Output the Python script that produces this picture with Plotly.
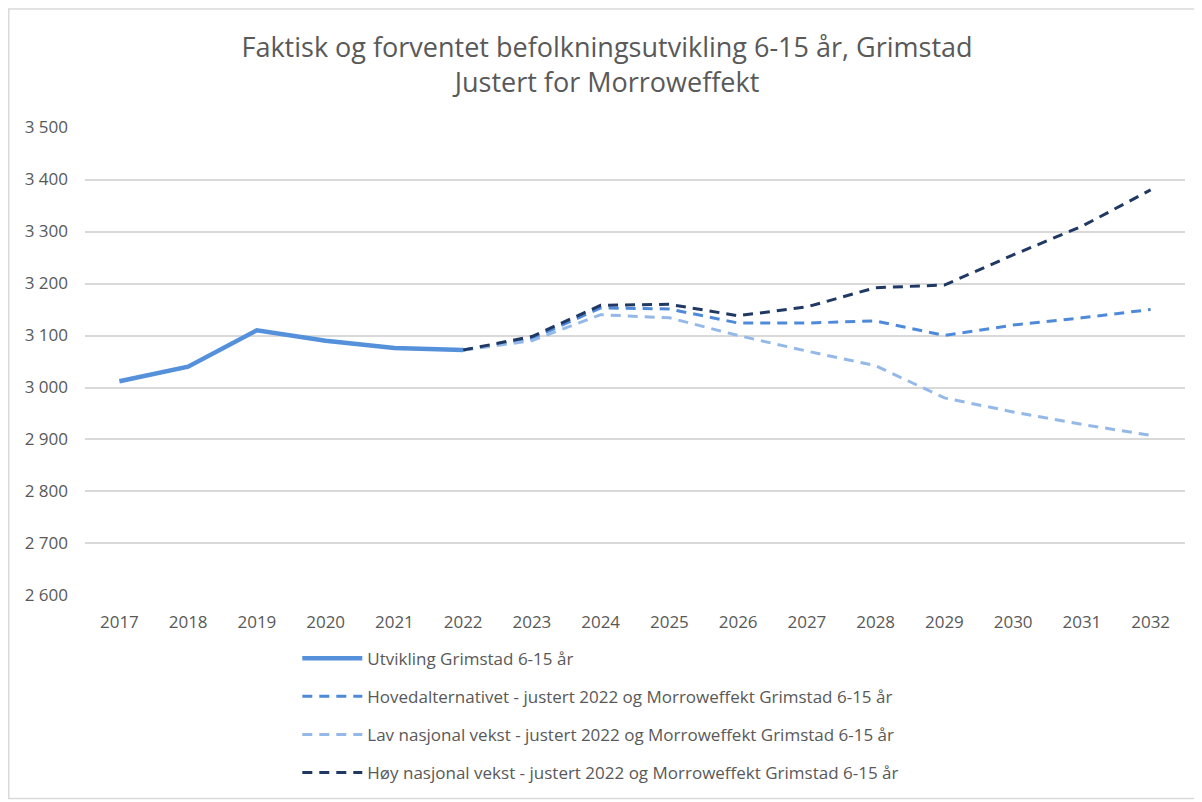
import plotly.graph_objects as go

years = [str(y) for y in range(2017, 2033)]

utvikling = [3012, 3040, 3110, 3090, 3076, 3072] + [None] * 10
hoved = [None] * 5 + [3072, 3094, 3153, 3151, 3124, 3124, 3128, 3100, 3120, 3134, 3150]
lav = [None] * 5 + [3072, 3090, 3140, 3134, 3100, 3070, 3042, 2980, 2953, 2929, 2908]
hoy = [None] * 5 + [3072, 3098, 3158, 3160, 3138, 3155, 3192, 3197, 3255, 3310, 3380]

names = [
    "Utvikling Grimstad 6-15 år",
    "Hovedalternativet - justert 2022 og Morroweffekt Grimstad 6-15 år",
    "Lav nasjonal vekst - justert 2022 og Morroweffekt Grimstad 6-15 år",
    "Høy nasjonal vekst - justert 2022 og Morroweffekt Grimstad 6-15 år",
]
y_ticks = list(range(2600, 3501, 100))
y_tick_labels = [f"{v // 1000} {v % 1000:03d}" for v in y_ticks]

font_family = "Open Sans, Liberation Sans, sans-serif"
fig = go.Figure()
series = [
    (utvikling, "#5590DB", 4.5, "solid"),
    (hoved, "#4F8AD9", 3, "10px,7px"),
    (lav, "#94B9E9", 3, "10px,7px"),
    (hoy, "#1F3864", 3, "10px,7px"),
]
for i, (vals, color, w, dash) in enumerate(series):
    fig.add_trace(go.Scatter(
        x=years, y=vals, name=names[i], mode="lines",
        line=dict(color=color, width=w, dash=dash),
        legendgroup=f"g{i}", connectgaps=False,
    ))

W, H = 1194, 794
L, T, PW, PH = 77, 119, 1100, 470
R = W - L - PW
B = H - T - PH

fig.update_layout(
    width=W, height=H,
    margin=dict(l=L, r=R, t=T, b=B),
    paper_bgcolor="white", plot_bgcolor="white",
    title=dict(
        text="Faktisk og forventet befolkningsutvikling 6-15 år, Grimstad<br>Justert for Morroweffekt",
        x=599 / W, xanchor="center", y=1 - 49 / H, yanchor="middle",
        font=dict(family=font_family, size=27, color="#595959"),
    ),
    font=dict(family=font_family, color="#595959", size=17),
    xaxis=dict(
        type="category", range=[-0.5, 15.5], showgrid=False,
        showline=False, ticks="", tickfont=dict(size=17, color="#595959"),
        ticklabelstandoff=14,
    ),
    yaxis=dict(
        range=[2599, 3501], tickvals=y_ticks, ticktext=y_tick_labels,
        showgrid=True, gridcolor="#D9D9D9", gridwidth=1.5, zeroline=False,
        showline=False, ticks="", tickfont=dict(size=17, color="#595959"),
        ticklabelstandoff=16,
    ),
    legend=dict(
        x=0.193, xanchor="left", y=-0.093, yanchor="top",
        orientation="v", tracegroupgap=13,
        font=dict(size=17, color="#595959"),
        itemwidth=60,
    ),
    shapes=[dict(
        type="rect", xref="paper", yref="paper",
        x0=(0.75 - L) / PW, x1=(1188 - L) / PW,
        y0=1 - (792 - T) / PH, y1=1 + (T - 0.75) / PH,
        line=dict(color="#D9D9D9", width=1.5),
    )],
)

fig.write_html("out.html")
